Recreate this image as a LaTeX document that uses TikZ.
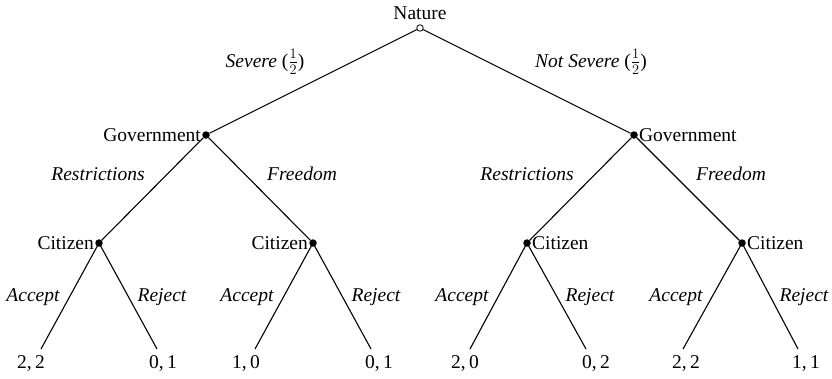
\documentclass[tikz,border=0pt]{standalone}
\usepackage{fontspec}
\setmainfont{Liberation Serif}
\begin{document}
\begin{tikzpicture}[x=1pt,y=-1pt,
  every node/.style={font=\fontsize{19.5}{23}\selectfont},
  chance/.style={circle,draw,fill=white,inner sep=0pt,minimum size=6.5pt,line width=0.8pt},
  dec/.style={circle,fill=black,inner sep=0pt,minimum size=7.5pt},
  edge/.style={line width=1.1pt},
  act/.style={font=\fontsize{19.5}{23}\selectfont\itshape},
  pay/.style={font=\fontsize{19.5}{23}\selectfont}]
\useasboundingbox (0,0) rectangle (832,378);
% decision nodes
\node[chance] (nat) at (420,28) {};
\node[dec] (g1) at (206,135) {};
\node[dec] (g2) at (634,135) {};
\node[dec] (c1) at (99,243) {};
\node[dec] (c2) at (313,243) {};
\node[dec] (c3) at (527,243) {};
\node[dec] (c4) at (742,243) {};
% leaves
\coordinate (l1) at (41,349);
\coordinate (l2) at (157,349);
\coordinate (l3) at (255,349);
\coordinate (l4) at (371,349);
\coordinate (l5) at (470,349);
\coordinate (l6) at (586,349);
\coordinate (l7) at (683,349);
\coordinate (l8) at (798,349);
% edges
\draw[edge] (nat) -- (g1);
\draw[edge] (nat) -- (g2);
\draw[edge] (g1) -- (c1);
\draw[edge] (g1) -- (c2);
\draw[edge] (g2) -- (c3);
\draw[edge] (g2) -- (c4);
\draw[edge] (c1.center) -- (l1);
\draw[edge] (c1.center) -- (l2);
\draw[edge] (c2.center) -- (l3);
\draw[edge] (c2.center) -- (l4);
\draw[edge] (c3.center) -- (l5);
\draw[edge] (c3.center) -- (l6);
\draw[edge] (c4.center) -- (l7);
\draw[edge] (c4.center) -- (l8);
% player labels
\node (tnat) at (420,13) {Nature};
\node[anchor=east,inner sep=1pt] (tg1) at (g1.west) {Government};
\node[anchor=west,inner sep=1pt] (tg2) at (g2.east) {Government};
\node[anchor=east,inner sep=1pt] (tc1) at (c1.west) {Citizen};
\node[anchor=east,inner sep=1pt] (tc2) at (c2.west) {Citizen};
\node[anchor=west,inner sep=1pt] (tc3) at (c3.east) {Citizen};
\node[anchor=west,inner sep=1pt] (tc4) at (c4.east) {Citizen};
% action labels
\node[act] (a1) at (265,62) {Severe \upshape($\frac{1}{2}$)};
\node[act] (a2) at (591,62) {Not Severe \upshape($\frac{1}{2}$)};
\node[act] (a3) at (98,174) {Restrictions};
\node[act] (a4) at (302,174) {Freedom};
\node[act] (a5) at (527,174) {Restrictions};
\node[act] (a6) at (731,174) {Freedom};
\node[act] (b1) at (33,297) {Accept};
\node[act] (b2) at (162,297) {Reject};
\node[act] (b3) at (247,297) {Accept};
\node[act] (b4) at (376,297) {Reject};
\node[act] (b5) at (462,297) {Accept};
\node[act] (b6) at (590,297) {Reject};
\node[act] (b7) at (676,297) {Accept};
\node[act] (b8) at (804,297) {Reject};
% payoffs
\node[pay] (p1) at (31,364) {2,\,2};
\node[pay] (p2) at (163,364) {0,\,1};
\node[pay] (p3) at (246,364) {1,\,0};
\node[pay] (p4) at (379,364) {0,\,1};
\node[pay] (p5) at (465,364) {2,\,0};
\node[pay] (p6) at (596,364) {0,\,2};
\node[pay] (p7) at (686,364) {2,\,2};
\node[pay] (p8) at (806,364) {1,\,1};
\end{tikzpicture}
\end{document}
